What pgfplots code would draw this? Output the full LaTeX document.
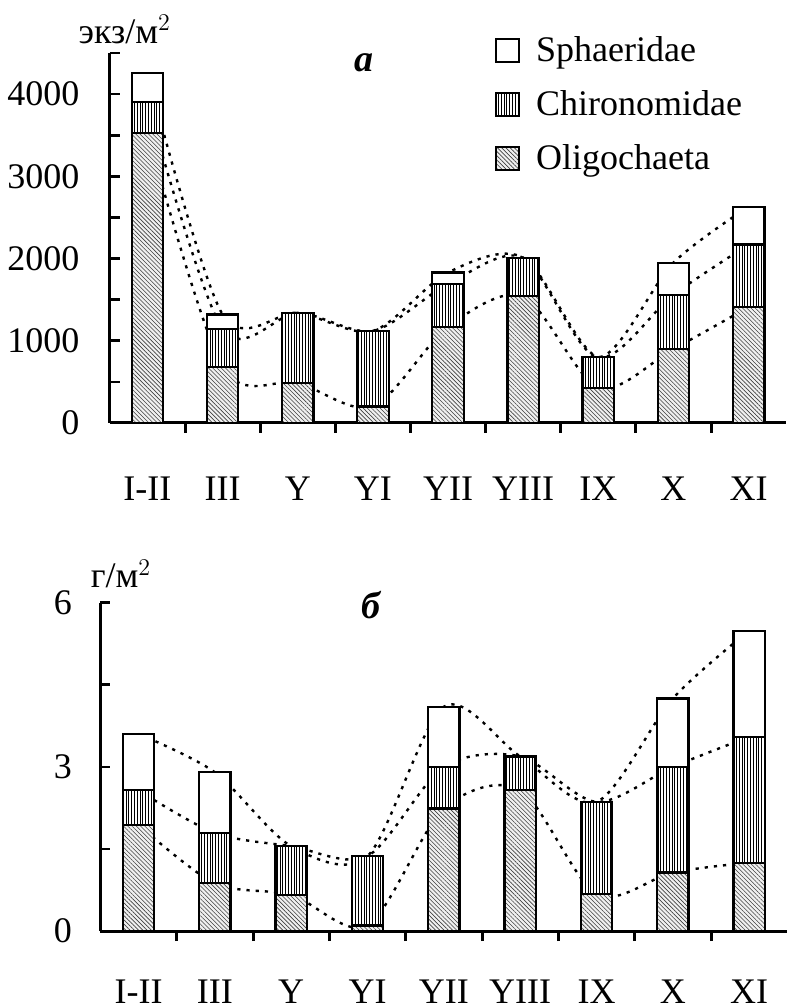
\documentclass[border=0pt]{standalone}
\usepackage{pgfplots}
\pgfplotsset{compat=1.18}
\usepackage{pgfplotstable}
\usetikzlibrary{patterns.meta}
\usepackage{fontspec}
\setmainfont{Liberation Serif}

% numbers per m^2 (stack increments and cumulative tops)
\pgfplotstableread{
cat olig chir sph chirtop total
0 3530 370 360 3900 4260
1  680 460 180 1140 1320
2  490 850   0 1340 1340
3  200 920   0 1120 1120
4 1170 520 140 1690 1830
5 1540 470   0 2010 2010
6  430 370   0  800  800
7  900 660 390 1560 1950
8 1410 760 460 2170 2630
}\countdata

% biomass, g per m^2
\pgfplotstableread{
cat olig chir sph chirtop total
0 1.94 0.63 1.03 2.57 3.60
1 0.87 0.92 1.11 1.79 2.90
2 0.66 0.89 0    1.55 1.55
3 0.10 1.27 0    1.37 1.37
4 2.24 0.76 1.10 3.00 4.10
5 2.58 0.61 0    3.19 3.19
6 0.67 1.69 0    2.36 2.36
7 1.07 1.93 1.25 3.00 4.25
8 1.25 2.30 1.94 3.55 5.49
}\massdata

\tikzset{bigfont/.style={font=\fontsize{18}{21}\selectfont}}

\pgfplotsset{
  sqlegend/.style={legend image code/.code={%
      \draw[##1,line width=1pt] (0pt,-5.75pt) rectangle (11.5pt,5.75pt);
      \path (0pt,0pt) (17.5pt,0pt);}},
  oligo/.style={draw=black,line width=1.1pt,fill=gray!12,
    postaction={pattern={Lines[angle=-45,distance=1.5pt,line width=0.3pt]},pattern color=black!75},
    sqlegend},
  chiro/.style={draw=black,line width=1.1pt,fill=white,
    postaction={pattern={Lines[angle=90,distance=1.4pt,line width=0.4pt]},pattern color=black},
    sqlegend},
  sphae/.style={draw=black,line width=1.1pt,fill=white,sqlegend},
  conn/.style={black,line width=1.2pt,dash pattern=on 1.6pt off 3pt,smooth,no markers},
  frame/.style={
    scale only axis, xmin=-0.5, xmax=8.5, ymin=0,
    axis x line*=bottom, axis y line*=left,
    axis line style={-,line width=1.5pt},
    tick align=outside,
    major tick length=5pt,
    xtick={0.5,1.5,...,7.5},
    xticklabels={},
    xtick style={line width=1.5pt,black},
    extra x ticks={0,...,8},
    extra x tick labels={I-II,III,Y,YI,YII,YIII,IX,X,XI},
    extra x tick style={major tick length=0pt,tick style={draw=none}},
    ytick style={line width=1.3pt,black,xshift=5pt},
    ticklabel style={bigfont},
    yticklabel style={anchor=east,inner sep=0pt},
    /pgf/number format/assume math mode=true,
    /pgf/number format/1000 sep={},
  },
}

\begin{document}
\begin{tikzpicture}
\useasboundingbox (0,0) rectangle (393.5pt,504pt);

% ---- a: abundance ----
\begin{axis}[frame, at={(54.95pt,292.5pt)}, anchor=south west,
  width=338.15pt, height=185pt, ymax=4500, hide axis]
  \addplot[conn] table[x=cat,y=olig] {\countdata};
  \addplot[conn] table[x=cat,y=chirtop] {\countdata};
  \addplot[conn] table[x=cat,y=total] {\countdata};
\end{axis}
\begin{axis}[frame, at={(54.95pt,292.5pt)}, anchor=south west,
  width=338.15pt, height=185pt, ymax=4500,
  ytick={0,500,...,4500},
  yticklabels={0,,1000,,2000,,3000,,4000,},
  xticklabel style={anchor=base,yshift=-39pt},
  yticklabel shift=10pt,
  ybar stacked, bar width=0.42,
  reverse legend,
  legend style={at={(0.560,1.068)},anchor=north west,draw=none,fill=none,
    bigfont,row sep=9pt,legend cell align=left},
  clip=false]
  \addplot[oligo] table[x=cat,y=olig] {\countdata};
  \addplot[chiro] table[x=cat,y=chir] {\countdata};
  \addplot[sphae] table[x=cat,y=sph] {\countdata};
  \legend{Oligochaeta,Chironomidae,Sphaeridae}
  \node[bigfont,anchor=base] at (rel axis cs:0.022,1.027) {экз/м$^{2}$};
  \node[anchor=base,font=\fontsize{19}{22}\selectfont\bfseries\itshape] at (rel axis cs:0.376,0.949) {а};
\end{axis}

% ---- б: biomass ----
\begin{axis}[frame, at={(50.2pt,38.5pt)}, anchor=south west,
  width=343.5pt, height=164.15pt, ymax=6, hide axis]
  \addplot[conn] table[x=cat,y=olig] {\massdata};
  \addplot[conn] table[x=cat,y=chirtop] {\massdata};
  \addplot[conn] table[x=cat,y=total] {\massdata};
\end{axis}
\begin{axis}[frame, at={(50.2pt,38.5pt)}, anchor=south west,
  width=343.5pt, height=164.15pt, ymax=6,
  ytick={0,1.5,...,6},
  yticklabels={0,,3,,6},
  xticklabel style={anchor=base,yshift=-36pt},
  yticklabel shift=9pt,
  ybar stacked, bar width=0.41,
  clip=false]
  \addplot[oligo] table[x=cat,y=olig] {\massdata};
  \addplot[chiro] table[x=cat,y=chir] {\massdata};
  \addplot[sphae] table[x=cat,y=sph] {\massdata};
  \node[bigfont,anchor=base] at (rel axis cs:0.030,1.045) {г/м$^{2}$};
  \node[anchor=base,font=\fontsize{19}{22}\selectfont\bfseries\itshape] at (rel axis cs:0.394,0.953) {б};
\end{axis}
\end{tikzpicture}
\end{document}
